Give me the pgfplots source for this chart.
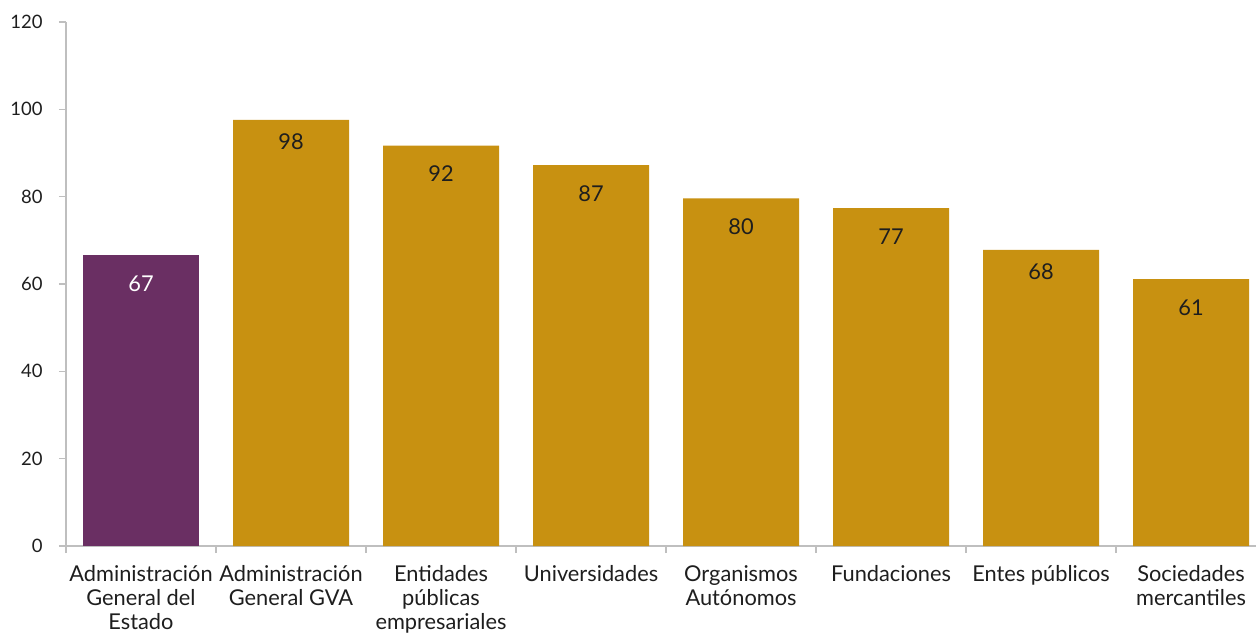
\documentclass[border=0pt]{standalone}
\usepackage{fontspec}
\setmainfont{Lato}
\usepackage{pgfplots}
\usepackage{pgfplotstable}
\pgfplotsset{compat=1.18}
\definecolor{barpurple}{RGB}{106,47,99}
\definecolor{bargold}{RGB}{200,145,17}
\definecolor{axisgray}{RGB}{191,191,191}
\definecolor{txt}{RGB}{30,30,30}
\pgfplotstableread{
x y s
1 97.6 -6
2 91.7 -13
3 87.2 -13
4 79.6 -13
5 77.4 -13
6 67.8 -6
7 61.1 -13
}\golddata
\begin{document}
\fontsize{21.8bp}{24bp}\selectfont
\begin{tikzpicture}
\begin{axis}[
  at={(0,0)}, anchor=south west,
  scale only axis,
  width=1190bp, height=524bp,
  xmin=-0.5, xmax=7.433,
  ymin=0, ymax=120,
  ytick={0,20,...,120},
  xtick={0,...,7},
  xticklabels={{Administración\\General del\\Estado},{Administración\\General GVA},{Entidades\\públicas\\empresariales},{Universidades},{Organismos\\Autónomos},{Fundaciones},{Entes públicos},{Sociedades\\mercantiles}},
  minor xtick={-0.5,0.5,...,6.5},
  major x tick style={draw=none},
  minor tick length=7bp,
  major tick length=7bp,
  tick align=outside,
  axis x line*=bottom,
  axis y line*=left,
  axis line style={axisgray, line width=1.2bp},
  every tick/.style={axisgray, line width=1.2bp},
  every minor tick/.style={axisgray, line width=1.2bp},
  yticklabel style={font=\fontsize{18.5bp}{22bp}\selectfont, text=txt, xshift=-9bp},
  xticklabel style={font=\fontsize{21.8bp}{24bp}\selectfont, text=txt, align=center, yshift=-5bp},
  /pgf/number format/assume math mode=true,
  ybar, bar width=116bp, bar shift=0pt,
  nodes near coords,
  nodes near coords align={below},
  every node near coord/.append style={font=\fontsize{21.8bp}{24bp}\selectfont, text=txt,
    /pgf/number format/fixed, /pgf/number format/precision=0, /pgf/number format/assume math mode=true},
]
\addplot[fill=barpurple, draw=none, every node near coord/.append style={text=white, yshift=-13bp}] coordinates {(0,66.6)};
\addplot[fill=bargold, draw=none, visualization depends on={\thisrow{s} \as \myshift},
  every node near coord/.append style={yshift=\myshift bp}] table[x=x, y=y] {\golddata};
\end{axis}
\pgfresetboundingbox
\path[use as bounding box] (-66bp,-89bp) rectangle (1190bp,546bp);
\end{tikzpicture}
\end{document}
